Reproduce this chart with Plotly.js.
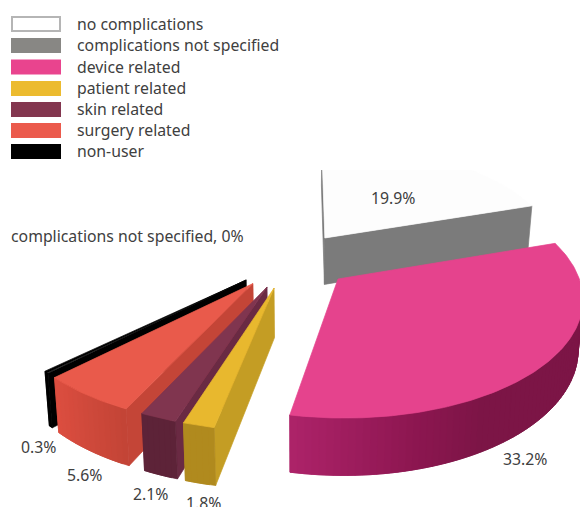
<!DOCTYPE html>
<html>
<head>
<meta charset="utf-8">
<script src="https://cdn.plot.ly/plotly-3.0.1.min.js"></script>
<style>html,body{margin:0;padding:0;background:#fff}#chart{width:580px;height:507px}</style>
</head>
<body>
<div id="chart"></div>
<script>
// Complication shares in percent, clockwise from twelve o'clock.
const categories = ['no complications', 'complications not specified', 'device related',
  'patient related', 'skin related', 'surgery related', 'non-user'];
const shares = [19.9, 0, 33.2, 1.8, 2.1, 5.6, 0.3];

// Slice appearance.
const topColors = ['#fdfdfd', '#888784', '#e5438d', '#e8b82e', '#80354f', '#e95a4b', '#000000'];
const keyColors = ['#ffffff', '#888784', '#e9448e', '#ecbb2f', '#83364f', '#eb5a4c', '#000000'];
const radialWallColors = ['#7b7b7b', '#7b7b7b', '#7c1546', '#c49d24', '#6a2a43', '#c44537', '#000000'];
// Outer wall shading: [angle in degrees, colour] stops per slice.
const rimShades = [
  [[0, '#7b7b7b'], [72, '#7b7b7b']],
  [[0, '#7b7b7b'], [1, '#7b7b7b']],
  [[72, '#7c1546'], [150, '#7c1546'], [165, '#8c1650'], [191, '#ad2369']],
  [[191, '#b08a1e'], [198, '#b08a1e']],
  [[198, '#5d2338'], [205, '#5d2338']],
  [[205, '#c24436'], [226, '#dd4e40']],
  [[226, '#000000'], [227, '#000000']]
];
// Small sideways correction of a slice on the ground plane.
const sliceNudge = [0.008, 0, 0.016, 0, 0, -0.006, 0];

// Label placement in page pixels.
const labelSpots = [[393, 197.5], null, [525, 459], [203, 503], [150, 494], [84, 475], [38, 446.5]];
const zeroNote = 'complications not specified, 0%';
const keyRows = [24, 45.5, 67, 88.5, 109.5, 130.5, 151.5];

// Perspective camera over the pie's ground plane (radius 1).
const view = {vanishX: 300, horizon: -520, focal: 1628, ground: 5390, depth: 6.91, shiftX: -0.0446,
  wall: 330, taper: 0.983, explode: 0.248};
const PAGE_W = 580, PAGE_H = 507, CLIP_TOP = 170;
const TEXT = {family: '"Noto Sans", sans-serif', size: 15.8, color: '#404040'};

const rad = d => d * Math.PI / 180;
function project(x, y, lower) {
  const w = y + view.depth;
  const px = view.vanishX + view.focal * (x + view.shiftX) / w;
  const py = view.horizon + view.ground / w;
  if (!lower) return [px, py];
  return [view.vanishX + view.taper * (px - view.vanishX), py + view.wall / w];
}
function hexMix(a, b, t) {
  const ch = (h, i) => parseInt(h.substr(1 + 2 * i, 2), 16);
  return 'rgb(' + [0, 1, 2].map(i => Math.round(ch(a, i) + (ch(b, i) - ch(a, i)) * t)).join(',') + ')';
}
function shadeAt(stops, angle) {
  for (let i = 1; i < stops.length; i++) {
    if (angle <= stops[i][0]) {
      const t = (angle - stops[i - 1][0]) / (stops[i][0] - stops[i - 1][0]);
      return hexMix(stops[i - 1][1], stops[i][1], Math.max(0, t));
    }
  }
  return stops[stops.length - 1][1];
}
function facet(points, color) {
  return {
    type: 'scatter', mode: 'lines', fill: 'toself', fillcolor: color,
    x: points.map(p => p[0]), y: points.map(p => p[1]),
    line: {color: color, width: 0.7}, hoverinfo: 'skip', showlegend: false
  };
}

// Sweep each share around the circle; the unassigned remainder stays open.
const slices = [];
let sweep = 0;
shares.forEach((share, i) => {
  const from = sweep, to = sweep + share * 3.6;
  sweep = to;
  if (share <= 0) return;
  const mid = rad((from + to) / 2);
  slices.push({i, from, to, ax: view.explode * Math.sin(mid) + sliceNudge[i], ay: view.explode * Math.cos(mid)});
});

// A wall is drawn only when its outward side faces the camera.
function facesCamera(nx, ny, x, y) {
  return nx * (-view.shiftX - x) + ny * (-view.depth - y) > 0;
}
function rimPoint(s, deg, lower) {
  return project(s.ax + Math.sin(rad(deg)), s.ay + Math.cos(rad(deg)), lower);
}
function sliceTraces(s) {
  const out = [];
  const apexTop = project(s.ax, s.ay, false), apexLow = project(s.ax, s.ay, true);
  // Radial walls.
  [[s.from, -90], [s.to, 90]].forEach(([edge, turn]) => {
    const n = rad(edge + turn);
    if (!facesCamera(Math.sin(n), Math.cos(n), s.ax, s.ay)) return;
    out.push(facet([apexTop, rimPoint(s, edge, false), rimPoint(s, edge, true), apexLow, apexTop],
      radialWallColors[s.i]));
  });
  // Outer wall; each facet runs on under the next so no seams show between steps.
  const steps = Math.max(3, Math.ceil((s.to - s.from) / 1.5));
  const step = (s.to - s.from) / steps;
  for (let k = 0; k < steps; k++) {
    const a = s.from + step * k;
    const b = Math.min(s.to, a + 2 * step);
    const m = rad(a + step / 2);
    const nx = Math.sin(m), ny = Math.cos(m);
    if (!facesCamera(nx, ny, s.ax + nx, s.ay + ny)) continue;
    const ring = [rimPoint(s, a, false)];
    for (let t = a + step / 2; t < b; t += step / 2) ring.push(rimPoint(s, t, false));
    ring.push(rimPoint(s, b, false));
    ring.push(rimPoint(s, b, true));
    for (let t = b - step / 2; t > a; t -= step / 2) ring.push(rimPoint(s, t, true));
    ring.push(rimPoint(s, a, true), rimPoint(s, a, false));
    out.push(facet(ring, shadeAt(rimShades[s.i], a + step / 2)));
  }
  // Top surface.
  const top = [apexTop];
  const n = Math.max(6, Math.ceil(s.to - s.from));
  for (let k = 0; k <= n; k++) top.push(rimPoint(s, s.from + (s.to - s.from) * k / n, false));
  top.push(apexTop);
  out.push(facet(top, topColors[s.i]));
  return out;
}

// Painter's order: back slice first, then round the left side, the big front slice last.
const paintOrder = [0, 6, 5, 4, 3, 2];
const data = [];
paintOrder.forEach(idx => {
  const s = slices.find(q => q.i === idx);
  if (s) data.push(...sliceTraces(s));
});

const px = x => x / PAGE_W, py = y => 1 - y / PAGE_H;
const shapes = [], annotations = [];
categories.forEach((name, i) => {
  const isBlank = i === 0;
  shapes.push({
    type: 'rect', xref: 'paper', yref: 'paper', layer: 'above',
    x0: px(isBlank ? 12 : 11), x1: px(isBlank ? 60 : 61),
    y0: py(keyRows[i] + (isBlank ? 7 : 7.5)), y1: py(keyRows[i] - (isBlank ? 7 : 7.5)),
    fillcolor: keyColors[i],
    line: isBlank ? {color: '#b5b5b5', width: 2} : {width: 0}
  });
  annotations.push({
    xref: 'paper', yref: 'paper', x: px(75), y: py(keyRows[i] - 0.3), xanchor: 'left', yanchor: 'middle',
    text: name, showarrow: false, font: TEXT
  });
});
shares.forEach((share, i) => {
  if (!labelSpots[i]) return;
  annotations.push({
    xref: 'paper', yref: 'paper', x: px(labelSpots[i][0]), y: py(labelSpots[i][1]),
    xanchor: 'center', yanchor: 'middle', text: share.toFixed(1) + '%', showarrow: false, font: TEXT
  });
});
annotations.push({
  xref: 'paper', yref: 'paper', x: px(9), y: py(236), xanchor: 'left', yanchor: 'middle',
  text: zeroNote, showarrow: false, font: TEXT
});

const layout = {
  width: PAGE_W, height: PAGE_H,
  margin: {l: 0, r: 0, t: 0, b: 0},
  paper_bgcolor: '#ffffff', plot_bgcolor: '#ffffff',
  showlegend: false,
  xaxis: {range: [0, PAGE_W], visible: false, fixedrange: true},
  yaxis: {range: [PAGE_H, CLIP_TOP], domain: [0, 1 - CLIP_TOP / PAGE_H], visible: false, fixedrange: true},
  shapes, annotations
};
Plotly.newPlot('chart', data, layout, {displayModeBar: false, staticPlot: true});
</script>
</body>
</html>
